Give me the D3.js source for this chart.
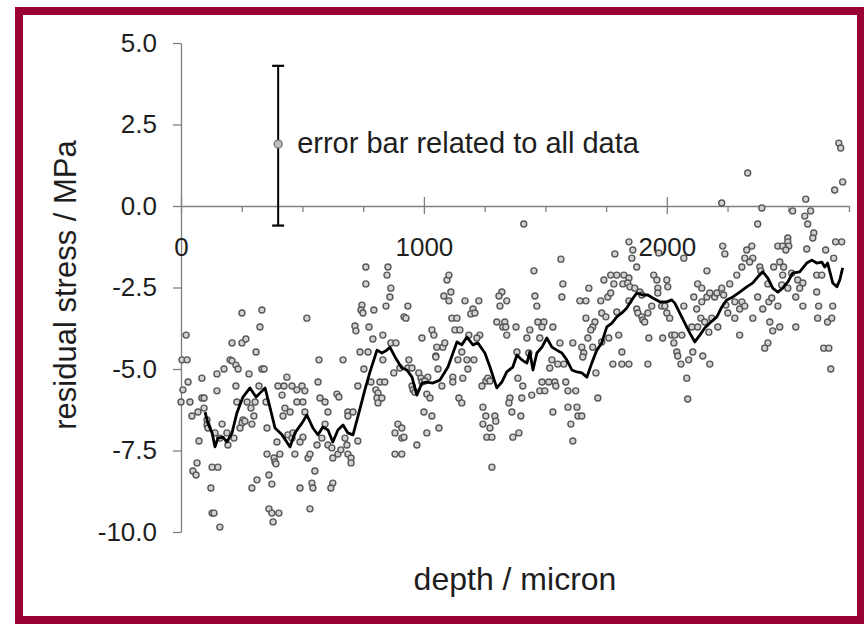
<!DOCTYPE html>
<html><head><meta charset="utf-8">
<script src="https://cdn.jsdelivr.net/npm/d3@7"></script>
<style>
body{margin:0;background:#fff}
svg{display:block}
text{font-family:"Liberation Sans",Arial,sans-serif;fill:#1e1e1e}
</style>
</head><body>
<svg id="chart" width="864" height="626"></svg>
<script>
// ---------- data ----------
const xMajorTicks = [0, 1000, 2000];
const xMinorTicks = [250, 500, 750, 1250, 1500, 1750, 2250, 2500, 2750];
const yTicks = [5, 2.5, 0, -2.5, -5, -7.5, -10];
const xTitle = "depth / micron";
const yTitle = "residual stress / MPa";
const errorLabel = "error bar related to all data";
const errorDepth = 400, errorMean = 1.9, errorLow = -0.6, errorHigh = 4.3;

// measured points [depth (micron), residual stress (MPa)]
const points = [
[21,-3.96],[4,-4.72],[25,-4.72],[29,-5.40],[8,-5.64],[86,-5.28],[86,-5.89],[148,-5.15],[148,-5.67],[177,-5.00],[202,-4.72],[210,-4.75],[226,-4.88],[235,-5.00],[226,-5.52],[210,-4.20],[251,-4.20],[267,-4.08],[251,-3.28],[333,-3.19],[325,-3.71],[309,-4.48],[333,-5.00],[342,-5.00],[280,-5.15],[321,-5.52],[399,-5.52],[424,-5.52],[436,-5.25],[416,-5.80],[457,-5.52],[498,-5.52],[477,-5.64],[510,-5.67],[518,-3.44],[568,-4.72],[564,-5.40],[572,-5.89],[667,-4.72],[642,-5.77],[650,-5.86],[716,-3.68],[720,-3.83],[761,-1.87],[761,-2.39],[745,-3.04],[741,-3.19],[749,-3.28],[774,-3.71],[794,-3.19],[737,-4.48],[770,-4.48],[753,-5.00],[728,-5.52],[852,-1.87],[848,-2.12],[864,-2.52],[860,-2.79],[844,-3.07],[831,-3.96],[790,-4.08],[864,-4.20],[885,-4.20],[831,-4.72],[876,-5.12],[782,-5.40],[819,-5.40],[839,-5.40],[802,-5.64],[811,-5.74],[918,-3.40],
[0,-6.01],[37,-6.01],[95,-5.89],[45,-6.44],[70,-6.32],[95,-6.20],[107,-6.56],[107,-6.72],[111,-6.81],[74,-7.21],[140,-6.96],[169,-6.69],[160,-7.12],[189,-6.96],[193,-7.33],[218,-7.12],[230,-6.01],[255,-6.56],[251,-6.66],[263,-6.60],[243,-6.81],[292,-6.69],[300,-6.44],[272,-6.01],[305,-6.01],[288,-6.20],[350,-6.01],[354,-6.81],[66,-7.88],[49,-8.13],[62,-8.25],[128,-8.01],[152,-8.01],[123,-8.65],[128,-9.42],[136,-9.42],[160,-9.85],[292,-8.65],[313,-8.40],[362,-8.25],[374,-8.53],[354,-7.61],[383,-7.73],[387,-7.85],[391,-7.91],[407,-7.61],[362,-9.29],[374,-9.42],[379,-9.69],[403,-9.42],[395,-7.24],[420,-6.44],[428,-6.20],[449,-6.32],[440,-7.02],[457,-7.12],[461,-6.96],[469,-7.61],[477,-6.01],[502,-6.01],[510,-6.32],[502,-7.09],[490,-7.24],[523,-7.73],[531,-7.61],[551,-8.13],[490,-8.65],[539,-8.50],[543,-8.65],[531,-9.29],[593,-6.01],[605,-6.32],[560,-7.33],[580,-7.12],[593,-6.69],[605,-7.33],[621,-7.42],[625,-7.73],[646,-7.61],[625,-8.50],[617,-8.65],[675,-7.12],[683,-7.33],[687,-6.32],[708,-6.32],[687,-6.44],[658,-7.48],[687,-7.61],[700,-7.73],[700,-7.88],[728,-7.21],[807,-5.89],[827,-5.89],[811,-6.04],[881,-6.96],[893,-6.69],[909,-6.81],[909,-7.12],[881,-7.61],[909,-7.61],
[1411,-0.55],[1564,-1.63],[1453,-1.99],[1572,-2.39],[1568,-2.79],[1786,-1.47],[1844,-1.10],[1095,-2.27],[1103,-2.12],[1111,-2.64],[1082,-2.76],[1103,-2.91],[934,-3.07],[926,-3.44],[1169,-2.91],[1226,-2.91],[1202,-3.16],[1193,-3.31],[1210,-3.28],[1115,-3.44],[1136,-3.44],[1128,-3.80],[1148,-3.80],[1033,-3.80],[1041,-3.96],[992,-4.05],[1053,-4.33],[1078,-4.33],[1086,-4.20],[1049,-4.60],[1185,-3.96],[1230,-3.96],[1218,-4.05],[1156,-4.48],[1321,-2.64],[1309,-2.76],[1341,-2.91],[1313,-3.07],[1300,-3.56],[1333,-3.56],[1325,-3.71],[1337,-3.71],[1341,-3.96],[1379,-3.71],[1457,-2.76],[1465,-3.07],[1469,-3.56],[1494,-3.56],[1486,-3.71],[1531,-3.71],[1436,-3.80],[1424,-4.05],[1477,-4.05],[1432,-4.51],[1383,-4.48],[1560,-4.20],[1613,-4.20],[1642,-2.91],[1667,-2.91],[1679,-2.52],[1667,-3.44],[1650,-4.33],[1658,-4.51],[1728,-2.91],[1741,-2.27],[1769,-2.12],[1794,-2.12],[1823,-2.12],[1844,-2.21],[1782,-2.39],[1819,-2.39],[1757,-2.79],[1769,-2.67],[1732,-3.28],[1749,-3.40],[1794,-3.25],[1704,-3.56],[1695,-3.71],[1687,-3.80],[1675,-4.05],[1761,-4.05],[1695,-4.33],[1732,-4.17],[1802,-3.96],[1815,-4.48],[1844,-2.91],
[938,-4.72],[1049,-4.63],[901,-4.97],[934,-4.97],[951,-4.97],[979,-5.12],[1016,-5.25],[988,-5.28],[992,-5.40],[1004,-5.37],[951,-5.52],[955,-5.64],[963,-5.71],[1058,-5.00],[1074,-5.52],[1012,-5.77],[1025,-5.89],[1144,-5.89],[1156,-6.04],[1000,-6.32],[1033,-6.44],[1062,-6.81],[1012,-6.96],[971,-7.33],[918,-7.09],[1119,-5.25],[1119,-5.40],[1160,-5.28],[1140,-4.72],[1177,-4.72],[1206,-4.72],[1181,-5.00],[1239,-5.52],[1255,-5.37],[1263,-5.28],[1272,-5.37],[1243,-6.17],[1255,-6.44],[1292,-6.44],[1296,-6.60],[1243,-6.69],[1272,-6.81],[1259,-7.09],[1280,-7.09],[1280,-8.01],[1354,-5.89],[1350,-6.04],[1362,-6.32],[1387,-5.28],[1407,-5.52],[1403,-5.89],[1399,-6.44],[1366,-7.09],[1391,-6.96],[1444,-5.80],[1486,-5.40],[1514,-5.40],[1477,-5.67],[1498,-5.67],[1539,-5.40],[1543,-5.52],[1584,-5.40],[1593,-5.67],[1625,-5.67],[1531,-6.32],[1593,-6.17],[1630,-6.17],[1634,-6.44],[1650,-6.44],[1605,-6.69],[1613,-7.21],[1518,-4.97],[1527,-4.72],[1551,-4.85],[1576,-4.85],[1654,-4.63],[1708,-5.12],[1716,-5.89],[1778,-4.85],[1815,-4.85],[1844,-4.85],
[2708,1.93],[2716,1.78],[2724,0.74],[2691,0.49],[2333,1.01],[2572,0.21],[2226,0.09],[2391,-0.06],[2518,-0.15],[2592,-0.15],[2568,-0.31],[2374,-0.55],[2580,-0.55],[2605,-0.83],[2601,-0.98],[2498,-0.98],[2498,-1.10],[2502,-1.23],[2457,-1.23],[2477,-1.23],[2490,-1.35],[2230,-1.23],[2239,-1.47],[2350,-1.23],[2329,-1.35],[2321,-1.60],[2354,-1.60],[2341,-1.72],[2576,-1.32],[2695,-1.10],[2720,-1.10],[2654,-1.35],[2687,-1.60],[2309,-1.87],[2383,-1.87],[2387,-1.99],[2288,-2.12],[2165,-1.99],[2259,-2.39],[2226,-2.52],[2440,-1.87],[2465,-1.72],[2481,-1.87],[2477,-2.12],[2416,-2.39],[2514,-2.06],[2539,-2.27],[2560,-2.36],[2617,-2.12],[2638,-2.12],[1860,-1.35],[1856,-1.60],[1876,-1.87],[1839,-2.36],[1946,-2.12],[1959,-2.27],[2000,-2.27],[2004,-2.48],[1967,-1.44],[2070,-1.60],[2127,-2.39],
[1848,-2.48],[1868,-2.52],[1889,-2.64],[1897,-2.73],[1963,-2.52],[1963,-2.67],[1938,-3.07],[1979,-3.07],[1992,-3.07],[1876,-3.16],[1881,-3.28],[1897,-3.40],[1901,-3.50],[1909,-3.56],[1922,-3.28],[2000,-3.28],[2012,-3.44],[2070,-3.07],[1926,-4.05],[1983,-4.05],[2020,-3.96],[2033,-3.96],[2062,-3.96],[2029,-4.20],[2041,-4.48],[2045,-4.60],[2058,-4.85],[1922,-4.85],[2082,-5.28],[2086,-5.92],[2090,-4.72],[2107,-4.48],[2148,-4.60],[2177,-4.85],[2111,-2.79],[2123,-3.16],[2144,-2.94],[2165,-2.79],[2197,-2.79],[2103,-3.71],[2127,-3.71],[2140,-3.44],[2156,-3.56],[2173,-3.87],[2185,-3.44],[2210,-3.71],[2144,-2.52],[2177,-2.67],[2206,-2.67],[2234,-2.73],[2243,-3.04],[2251,-3.28],[2280,-3.44],[2300,-3.96],[2280,-2.94],[2309,-2.94],[2300,-3.16],[2321,-3.07],[2354,-3.44],[2374,-2.79],[2395,-3.16],[2420,-2.94],[2432,-2.82],[2457,-3.07],[2424,-3.56],[2436,-3.83],[2465,-3.71],[2416,-4.20],[2403,-4.36],[2531,-3.71],[2531,-2.79],[2560,-3.07],[2617,-2.64],[2625,-3.07],[2621,-3.44],[2662,-3.56],[2679,-3.44],[2683,-3.07],[2646,-4.36],[2667,-4.36],[2675,-5.00],[2473,-2.42],[2498,-2.52],[2547,-2.52]
];

// moving average [depth, stress]
const movingAverage = [
[99,-6.32],[111,-6.66],[128,-6.96],[140,-7.39],[152,-7.12],[173,-7.09],[189,-7.24],[210,-6.96],[230,-6.35],[255,-5.86],[284,-5.58],[309,-5.86],[325,-5.74],[346,-5.58],[366,-6.17],[387,-6.81],[416,-7.02],[449,-7.39],[469,-6.96],[498,-6.66],[518,-6.41],[543,-6.81],[564,-7.02],[584,-6.78],[605,-6.87],[625,-7.24],[646,-6.87],[667,-6.72],[687,-6.96],[708,-7.02],[728,-6.47],[757,-5.64],[778,-5.09],[807,-4.42],[827,-4.51],[848,-4.42],[860,-4.33],[881,-4.63],[909,-4.97],[930,-5.03],[951,-5.25],[971,-5.80],[992,-5.43],[1012,-5.40],[1037,-5.43],[1066,-5.34],[1099,-4.94],[1136,-4.17],[1156,-4.26],[1177,-4.02],[1202,-4.26],[1222,-4.20],[1251,-4.51],[1272,-4.94],[1300,-5.58],[1321,-5.40],[1341,-5.09],[1366,-4.94],[1383,-4.57],[1403,-4.72],[1424,-4.82],[1436,-4.48],[1449,-5.03],[1465,-4.51],[1486,-4.33],[1506,-4.05],[1527,-4.33],[1547,-4.42],[1568,-4.51],[1588,-4.72],[1609,-5.03],[1630,-5.09],[1650,-5.12],[1671,-5.25],[1691,-4.82],[1712,-4.42],[1732,-4.20],[1753,-3.71],[1774,-3.59],[1794,-3.40],[1815,-3.28],[1835,-3.13],[1856,-2.88],[1876,-2.67],[1901,-2.73],[1922,-2.73],[1942,-2.82],[1971,-2.94],[2000,-2.94],[2020,-2.88],[2033,-2.98],[2053,-3.28],[2074,-3.59],[2095,-3.90],[2115,-4.17],[2136,-3.96],[2156,-3.74],[2177,-3.59],[2206,-3.40],[2226,-3.10],[2247,-2.88],[2272,-2.79],[2300,-2.64],[2329,-2.48],[2354,-2.36],[2374,-2.18],[2395,-2.02],[2416,-2.21],[2436,-2.52],[2457,-2.64],[2477,-2.52],[2498,-2.33],[2518,-2.06],[2547,-2.02],[2576,-1.75],[2597,-1.66],[2617,-1.75],[2638,-1.72],[2650,-1.87],[2662,-1.75],[2683,-2.36],[2700,-2.48],[2712,-2.27],[2724,-1.90]
];

// ---------- drawing ----------
const svg = d3.select("#chart");
const W = 864, H = 626;

svg.append("rect").attr("x",0).attr("y",0).attr("width",W).attr("height",H).attr("fill","#fff");
// frame
svg.append("rect").attr("x",19).attr("y",11).attr("width",842).attr("height",609)
  .attr("fill","none").attr("stroke","#990033").attr("stroke-width",8);

const x = d3.scaleLinear().domain([0, 2750]).range([181, 849]);
const y = d3.scaleLinear().domain([-10, 5]).range([532, 43]);
const axisColor = "#808080";

// Y axis
const gy = svg.append("g").attr("transform", `translate(${x(0)},0)`)
  .call(d3.axisLeft(y).tickValues(yTicks).tickSize(8).tickSizeOuter(0).tickPadding(16)
    .tickFormat(d => d.toFixed(1)));
gy.select(".domain").attr("stroke", axisColor).attr("stroke-width",1.3);
gy.selectAll(".tick line").attr("stroke", axisColor).attr("stroke-width",1.3);
gy.selectAll(".tick text").attr("font-size",26).attr("fill","#1e1e1e")
  .style("font-family","'Liberation Sans',Arial,sans-serif");

// X axis (minor ticks)
const gxMinor = svg.append("g").attr("transform", `translate(0,${y(0)})`)
  .call(d3.axisBottom(x).tickValues(xMinorTicks).tickSize(6).tickSizeOuter(0).tickFormat(""));
gxMinor.select(".domain").attr("stroke", axisColor).attr("stroke-width",1.3);
gxMinor.selectAll(".tick line").attr("stroke", axisColor).attr("stroke-width",1.3);

// X axis (major ticks, crossing)
const gx = svg.append("g").attr("transform", `translate(0,${y(0)})`)
  .call(d3.axisBottom(x).tickValues(xMajorTicks).tickSize(8).tickSizeOuter(0).tickPadding(24)
    .tickFormat(d3.format("d")));
gx.select(".domain").remove();
gx.selectAll(".tick line").attr("y1",-9).attr("stroke", axisColor).attr("stroke-width",1.3);
gx.selectAll(".tick text").attr("font-size",26).attr("fill","#1e1e1e")
  .style("font-family","'Liberation Sans',Arial,sans-serif");

// scatter points
svg.append("g").selectAll("circle").data(points).join("circle")
  .attr("cx", d => x(d[0])).attr("cy", d => y(d[1])).attr("r", 3)
  .attr("fill", "#d2d2d2").attr("stroke", "#575757").attr("stroke-width", 1.4);

// moving average line
svg.append("path").datum(movingAverage)
  .attr("d", d3.line().x(d => x(d[0])).y(d => y(d[1])))
  .attr("fill","none").attr("stroke","#000").attr("stroke-width",2.8).attr("stroke-linejoin","round");

// error bar
const eb = svg.append("g");
eb.append("line").attr("x1",x(errorDepth)).attr("x2",x(errorDepth))
  .attr("y1",y(errorHigh)).attr("y2",y(errorLow)).attr("stroke","#000").attr("stroke-width",2);
[errorHigh, errorLow].forEach(v => {
  eb.append("line").attr("x1",x(errorDepth)-6).attr("x2",x(errorDepth)+6)
    .attr("y1",y(v)).attr("y2",y(v)).attr("stroke","#000").attr("stroke-width",2.2);
});
eb.append("circle").attr("cx",x(errorDepth)).attr("cy",y(errorMean)).attr("r",4)
  .attr("fill","#bdbdbd").attr("stroke","#707070").attr("stroke-width",1.3);
svg.append("text").attr("x", x(errorDepth)+19).attr("y", y(errorMean)+9)
  .attr("font-size",29).text(errorLabel);

// axis titles
svg.append("text").attr("x",515).attr("y",590).attr("text-anchor","middle")
  .attr("font-size",32).text(xTitle);
svg.append("text").attr("transform","translate(76,285) rotate(-90)").attr("text-anchor","middle")
  .attr("font-size",31).text(yTitle);
</script>
</body></html>
